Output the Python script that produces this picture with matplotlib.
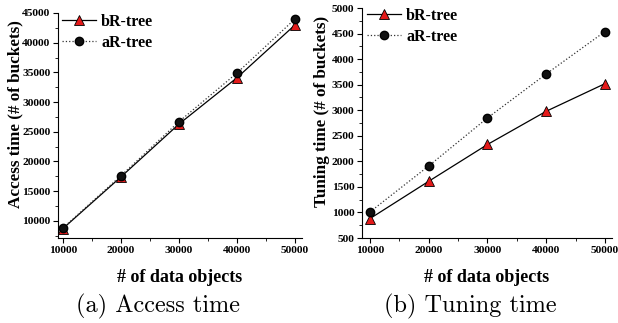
import matplotlib.pyplot as plt
from matplotlib.ticker import MultipleLocator

n_objects = [10000, 20000, 30000, 40000, 50000]

access_br = [8700, 17400, 26300, 34100, 43000]
access_ar = [8800, 17600, 26700, 34900, 44000]

tuning_br = [880, 1610, 2330, 2980, 3520]
tuning_ar = [1010, 1910, 2850, 3710, 4540]

plt.rcParams['font.family'] = 'Liberation Serif'
plt.rcParams['font.weight'] = 'bold'

W, H = 618, 323
fig = plt.figure(figsize=(W / 100, H / 100), dpi=100)

# axes boxes in pixels: left, top, right, bottom
box1 = (58, 13, 302, 238)
box2 = (362, 8, 612, 238)
ax1 = fig.add_axes([box1[0] / W, 1 - box1[3] / H,
                    (box1[2] - box1[0]) / W, (box1[3] - box1[1]) / H])
ax2 = fig.add_axes([box2[0] / W, 1 - box2[3] / H,
                    (box2[2] - box2[0]) / W, (box2[3] - box2[1]) / H])


def draw(ax, box, br, ar, ylabel, ylim, major, minor, ylab_x, leg_x, leg_top):
    ax.plot(n_objects, br, '-', color='black', lw=0.9, marker='^',
            markersize=6.5, markerfacecolor='#e41a1a', markeredgecolor='black',
            markeredgewidth=0.6, label='bR-tree', zorder=3)
    ax.plot(n_objects, ar, ':', color='#333333', lw=0.9, marker='o',
            markersize=6, markerfacecolor='#111111', markeredgecolor='black',
            label='aR-tree', zorder=4)
    ax.set_ylim(*ylim)
    ax.yaxis.set_major_locator(MultipleLocator(major))
    ax.yaxis.set_minor_locator(MultipleLocator(minor))
    ax.set_xticks(n_objects)
    ax.xaxis.set_minor_locator(MultipleLocator(5000))
    ax.spines['top'].set_visible(False)
    ax.spines['right'].set_visible(False)
    ax.tick_params(which='major', direction='out', length=3.5, width=0.8,
                   labelsize=8.2, pad=2)
    ax.tick_params(which='minor', direction='out', length=2, width=0.6)
    for lab in ax.get_xticklabels() + ax.get_yticklabels():
        lab.set_fontweight('bold')
    wid = box[2] - box[0]
    hgt = box[3] - box[1]
    ax.set_ylabel(ylabel, fontsize=12.3, fontweight='bold', va='center')
    ax.yaxis.set_label_coords((ylab_x - box[0]) / wid, 0.55)
    ax.set_xlabel('# of data objects', fontsize=13, fontweight='bold',
                  va='baseline')
    ax.xaxis.set_label_coords(0.5, (box[3] - 282) / hgt)
    ax.legend(loc='upper left',
              bbox_to_anchor=((leg_x - box[0]) / wid, (box[3] - leg_top) / hgt),
              frameon=False, handlelength=2.1, borderaxespad=0.0,
              borderpad=0.0, labelspacing=0.3, handletextpad=0.35,
              prop={'weight': 'bold', 'size': 11.5})


draw(ax1, box1, access_br, access_ar, 'Access time (# of buckets)',
     (7100, 45000), 5000, 2500, 15, 62, 14)
ax1.set_xlim(9140, 51200)
draw(ax2, box2, tuning_br, tuning_ar, 'Tuning time (# of buckets)',
     (500, 5000), 500, 250, 322, 367, 8)
ax2.set_xlim(8640, 51190)

fig.text(158 / W, 1 - 312 / H, '(a) Access time', family='cmr10',
         fontsize=17.5, fontweight='normal', ha='center', va='baseline')
fig.text(470 / W, 1 - 312 / H, '(b) Tuning time', family='cmr10',
         fontsize=17.5, fontweight='normal', ha='center', va='baseline')

fig.savefig('out.png', dpi=100)
